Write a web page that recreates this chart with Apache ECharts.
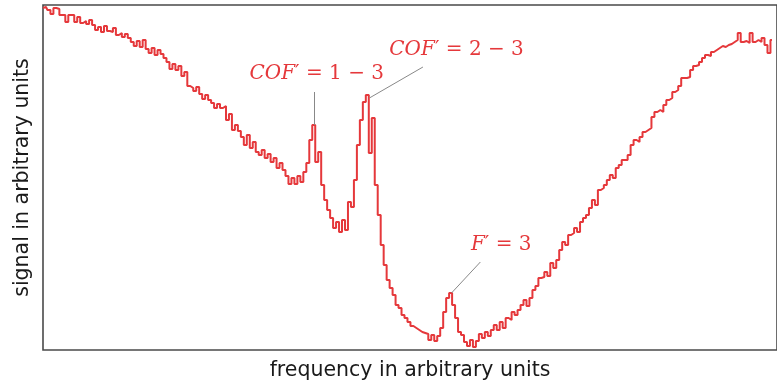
<!DOCTYPE html>
<html><head><meta charset="utf-8">
<script src="https://cdn.jsdelivr.net/npm/echarts@6/dist/echarts.min.js"></script>
<style>html,body{margin:0;padding:0;background:#fff}#c{width:777px;height:387px}</style>
</head><body><div id="c"></div>
<script>
// signal (arbitrary units), sampled at evenly spaced frequencies (index = frequency step)
const signal = [
342,343,340,336,342,341,
335,335,328,335,335,328,
333,327,329,326,330,
325,320,323,318,324,
319,318,322,315,
317,313,316,312,
308,304,309,303,310,
301,297,302,295,300,296,
292,288,281,286,280,
284,274,278,
264,262,259,263,
256,251,255,250,
247,242,246,242,244,
230,236,220,225,
219,213,205,215,202,208,
198,195,200,192,196,
188,192,182,187,180,
174,166,172,166,174,168,
178,187,210,225,188,198,
165,150,140,
132,122,128,118,130,120,
148,143,170,
205,230,248,255,
197,232,165,
135,105,
85,70,
62,55,45,
42,35,32,28,24,22,
20,18,17,16,
10,15,9,14,
22,38,
52,57,
45,32,
18,15,
8,4,10,3,9,
16,12,18,14,20,
25,20,28,22,
32,30,38,35,40,
45,50,44,52,
60,64,
72,73,78,74,
87,82,90,
100,108,105,
115,117,122,118,
128,132,135,
142,150,145,
160,162,165,
170,175,172,
182,185,190,
190,195,
205,210,208,213,
218,220,222,
233,238,240,238,
245,250,252,
258,260,264,
272,272,273,280,
284,285,288,
292,295,294,298,
300,302,304,303,305,306,
308,310,317,308,309,307,317,308,
310,308,312,305,297,310
];
const xLabel = 'frequency in arbitrary units';
const yLabel = 'signal in arbitrary units';
// annotations: peak position [freq, signal], leader end and label anchor [freq, signal]
const annNames = ['COF', 'COF', 'F'];
const annRest = ['′ = 1 − 3', '′ = 2 − 3', '′ = 3'];
const annPeak = [[91.3, 225], [109.7, 252], [137.3, 57]];
const annLineEnd = [[91.3, 258], [127.7, 283], [147, 88]];
const annText = [[92, 276], [139, 300], [154, 105]];

const red = '#e5383b';
const data = signal.map((v, i) => [i, v]);
const chart = echarts.init(document.getElementById('c'), null, {renderer: 'canvas'});
const rich = {
  i: {fontFamily: 'DejaVu Serif', fontStyle: 'italic', fontSize: 20, color: red},
  r: {fontFamily: 'DejaVu Serif', fontSize: 20, color: red}
};
chart.setOption({
  animation: false,
  grid: {left: 43, right: -6, top: 5, bottom: 37, show: true, borderColor: '#4a4a4a', borderWidth: 1.6},
  xAxis: {
    type: 'value', min: 0, max: 246.7,
    axisLine: {show: false}, axisTick: {show: false}, axisLabel: {show: false}, splitLine: {show: false},
    name: xLabel, nameLocation: 'middle', nameGap: 10,
    nameTextStyle: {fontFamily: 'DejaVu Sans', fontSize: 20.5, color: '#1a1a1a', verticalAlign: 'top'}
  },
  yAxis: {
    type: 'value', min: 0, max: 345,
    axisLine: {show: false}, axisTick: {show: false}, axisLabel: {show: false}, splitLine: {show: false},
    name: yLabel, nameLocation: 'middle', nameGap: 10,
    nameTextStyle: {fontFamily: 'DejaVu Sans', fontSize: 20.5, color: '#1a1a1a'}
  },
  series: [{
    type: 'line', data: data, showSymbol: false, symbol: 'none', step: 'middle',
    lineStyle: {color: red, width: 2}, z: 3,
    markLine: {
      silent: true, symbol: 'none', animation: false,
      lineStyle: {color: '#888', width: 1, type: 'solid'},
      label: {show: false},
      data: annPeak.map((p, k) => [{coord: p}, {coord: annLineEnd[k]}])
    },
    markPoint: {
      silent: true, symbol: 'circle', symbolSize: 0,
      data: annText.map((p, k) => ({
        coord: p,
        label: {show: true, position: 'inside', formatter: '{i|' + annNames[k] + '}{r|' + annRest[k] + '}', rich: rich}
      }))
    }
  }]
});
</script></body></html>
